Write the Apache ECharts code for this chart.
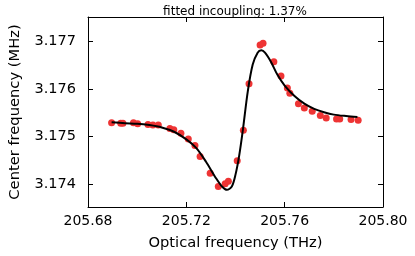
<!DOCTYPE html>
<html><head><meta charset="utf-8">
<script src="https://cdn.jsdelivr.net/npm/echarts@6/dist/echarts.min.js"></script>
<style>html,body{margin:0;padding:0;background:#fff}#c{width:415px;height:256px}</style>
</head><body><div id="c"></div>
<script>
const title = 'fitted incoupling: 1.37%';
const xTicks = [205.68, 205.72, 205.76, 205.80];
const yTicks = [3.174, 3.175, 3.176, 3.177];
const measX = [205.6896,205.6933,205.6942,205.6985,205.7002,205.7044,205.7064,205.7086,205.7133,205.7149,205.7178,205.7208,205.7235,205.7256,205.7297,205.7330,205.7358,205.7371,205.7407,205.7432,205.7455,205.7500,205.7512,205.7556,205.7585,205.7611,205.7621,205.7656,205.7680,205.7712,205.7745,205.7769,205.7811,205.7824,205.7870,205.7899];
const measY = [3.17529,3.17528,3.17528,3.17529,3.17527,3.17525,3.17524,3.17524,3.17517,3.17514,3.17507,3.17495,3.17481,3.17458,3.17423,3.17395,3.17401,3.17406,3.17449,3.17513,3.17611,3.17692,3.17696,3.17657,3.17627,3.17602,3.17591,3.17569,3.17560,3.17553,3.17544,3.17539,3.17537,3.17537,3.17536,3.17534];
const fitX = [205.6896,205.6950,205.7000,205.7050,205.7100,205.7150,205.7200,205.7240,205.7280,205.7320,205.7345,205.7365,205.7385,205.7400,205.7415,205.7430,205.7450,205.7470,205.7490,205.7505,205.7520,205.7545,205.7570,205.7600,205.7640,205.7680,205.7720,205.7760,205.7800,205.7850,205.7896];
const fitY = [3.17530,3.17528,3.17527,3.17524,3.17519,3.17510,3.17494,3.17476,3.17447,3.17413,3.17395,3.17388,3.17395,3.17420,3.17460,3.17514,3.17595,3.17651,3.17676,3.17681,3.17676,3.17656,3.17630,3.17607,3.17585,3.17569,3.17558,3.17551,3.17546,3.17543,3.17541];

const font = 'DejaVu Sans';
const chart = echarts.init(document.getElementById('c'), null, {renderer:'canvas'});
const xMin = 205.68, xMax = 205.80, yMin = 3.17352, yMax = 3.17751;
const tickStyle = {show:true, inside:true, length:5, lineStyle:{color:'#000', width:1}};
function xAxisDef(pos, labels){
  return {type:'value', position:pos, min:xMin, max:xMax, interval:0.04,
    axisLine:{show:true, onZero:false, lineStyle:{color:'#000', width:1}},
    axisTick:tickStyle, splitLine:{show:false},
    axisLabel:{show:labels, color:'#000', fontFamily:font, fontSize:14, margin:7,
      formatter:v=>{const t=xTicks.find(a=>Math.abs(a-v)<1e-6);return t===undefined?'':t.toFixed(2);}},
    name: labels?'Optical frequency (THz)':'', nameLocation:'middle', nameGap:29,
    nameTextStyle:{color:'#000', fontFamily:font, fontSize:14.7}};
}
function yAxisDef(pos, labels){
  return {type:'value', position:pos, min:yMin, max:yMax,
    axisLine:{show:true, onZero:false, lineStyle:{color:'#000', width:1}},
    axisTick:{...tickStyle, customValues:yTicks}, splitLine:{show:false},
    axisLabel:{show:labels, color:'#000', fontFamily:font, fontSize:14.5, margin:12,
      customValues:yTicks, formatter:v=>v.toFixed(3)},
    name: labels?'Center frequency (MHz)':'', nameLocation:'middle', nameGap:65,
    nameTextStyle:{color:'#000', fontFamily:font, fontSize:14.7}};
}
chart.setOption({
  animation:false,
  title:{text:title, left:230, top:1, textAlign:'center',
    textStyle:{fontFamily:font, fontSize:12, fontWeight:'normal', color:'#000'}},
  grid:{left:78, right:32, top:17, bottom:49},
  xAxis:[xAxisDef('bottom', true), xAxisDef('top', false)],
  yAxis:[yAxisDef('left', true), yAxisDef('right', false)],
  series:[
    {type:'scatter', xAxisIndex:0, yAxisIndex:0, symbolSize:7,
      itemStyle:{color:'#ee3434', opacity:1}, z:2,
      data: measX.map((x,i)=>[x, measY[i]])},
    {type:'line', xAxisIndex:0, yAxisIndex:0, showSymbol:false, symbol:'none', smooth:0.3,
      lineStyle:{color:'#000', width:2}, z:3,
      data: fitX.map((x,i)=>[x, fitY[i]])}
  ]
});
</script></body></html>
